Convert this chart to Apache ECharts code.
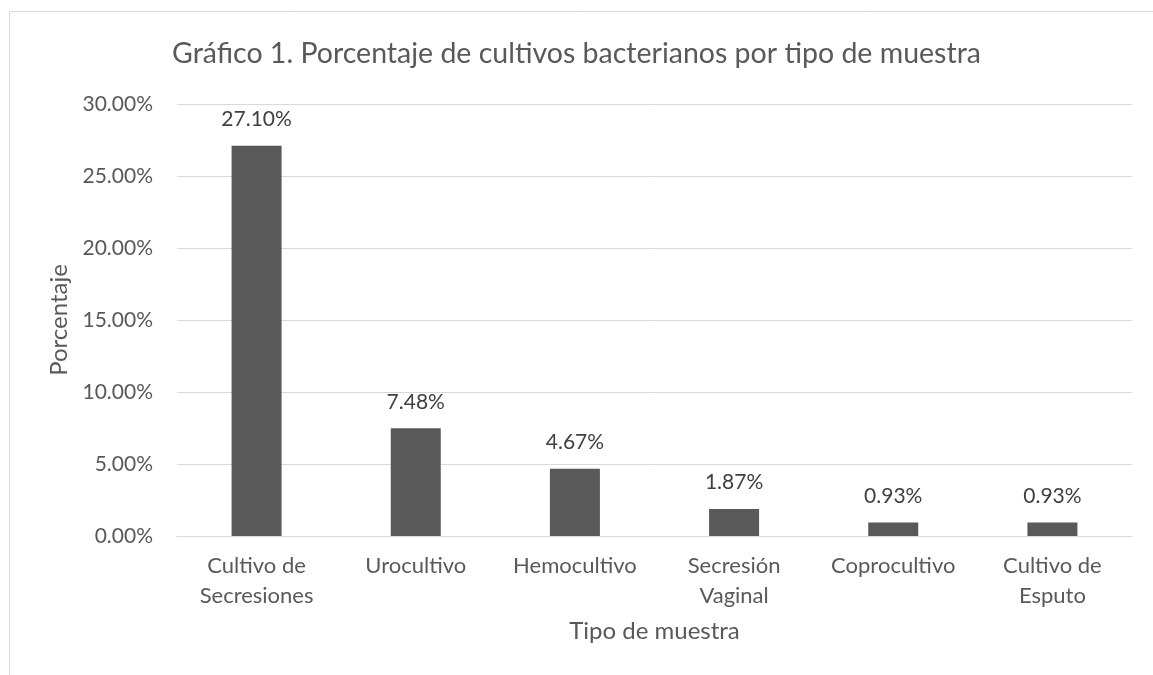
<!DOCTYPE html>
<html><head><meta charset="utf-8">
<script src="https://cdn.jsdelivr.net/npm/echarts@6/dist/echarts.min.js"></script>
<style>html,body{margin:0;padding:0;background:#fff}#c{width:1153px;height:675px}</style>
</head><body><div id="c"></div>
<script>
const categories = ["Cultivo de\nSecresiones", "Urocultivo", "Hemocultivo", "Secresión\nVaginal", "Coprocultivo", "Cultivo de\nEsputo"];
const values = [27.10, 7.48, 4.67, 1.87, 0.93, 0.93];
const yTicks = [0, 5, 10, 15, 20, 25, 30];

const FONT = 'Lato, "Open Sans", sans-serif';
const chart = echarts.init(document.getElementById('c'));
chart.setOption({
  animation: false,
  textStyle: { fontFamily: FONT },
  graphic: [{
    type: 'rect', shape: { x: 9.5, y: 11.5, width: 1160, height: 700 },
    style: { fill: 'none', stroke: '#d9d9d9', lineWidth: 1 }, silent: true
  }],
  title: {
    text: 'Gráfico 1. Porcentaje de cultivos bacterianos por tipo de muestra',
    left: 'center', top: 34,
    textStyle: { fontFamily: FONT, fontSize: 28.5, fontWeight: 'normal', color: '#595959' }
  },
  grid: { left: 177, right: 21, top: 104, bottom: 139, containLabel: false },
  xAxis: {
    type: 'category', data: categories,
    name: 'Tipo de muestra', nameLocation: 'middle', nameGap: 83,
    nameTextStyle: { fontFamily: FONT, fontSize: 24, color: '#595959' },
    axisLine: { lineStyle: { color: '#d9d9d9', width: 1 } },
    axisTick: { show: false },
    axisLabel: { interval: 0, hideOverlap: false, fontFamily: FONT, fontSize: 22, color: '#595959', margin: 15, lineHeight: 30 }
  },
  yAxis: {
    type: 'value', min: 0, max: 30, interval: 5,
    name: 'Porcentaje', nameLocation: 'middle', nameGap: 103, nameRotate: 90,
    nameTextStyle: { fontFamily: FONT, fontSize: 24, color: '#595959' },
    axisLine: { show: false }, axisTick: { show: false },
    splitLine: { lineStyle: { color: '#d9d9d9', width: 1 } },
    axisLabel: { fontFamily: FONT, fontSize: 21, color: '#595959', margin: 24,
      formatter: v => yTicks.includes(v) ? v.toFixed(2) + '%' : '' }
  },
  series: [{
    type: 'bar', data: values, barWidth: 50,
    itemStyle: { color: '#595959' },
    label: { show: true, position: 'top', distance: 16, fontFamily: FONT, fontSize: 21, color: '#404040',
      formatter: p => p.value.toFixed(2) + '%' }
  }]
});
</script></body></html>
